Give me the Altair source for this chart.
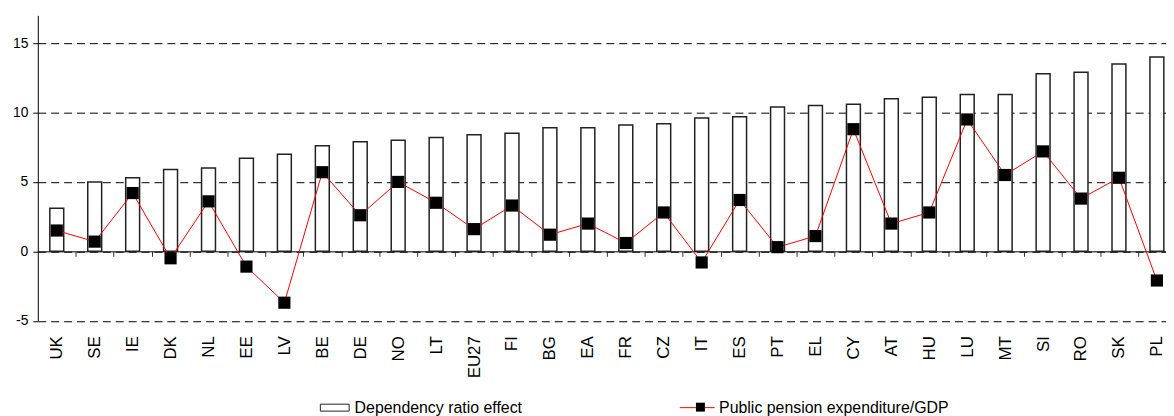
import altair as alt
import pandas as pd

countries = ["UK", "SE", "IE", "DK", "NL", "EE", "LV", "BE", "DE", "NO",
             "LT", "EU27", "FI", "BG", "EA", "FR", "CZ", "IT", "ES", "PT",
             "EL", "CY", "AT", "HU", "LU", "MT", "SI", "RO", "SK", "PL"]
dependency = [3.1, 5.0, 5.3, 5.9, 6.0, 6.7, 7.0, 7.6, 7.9, 8.0,
              8.2, 8.4, 8.5, 8.9, 8.9, 9.1, 9.2, 9.6, 9.7, 10.4,
              10.5, 10.6, 11.0, 11.1, 11.3, 11.3, 12.8, 12.9, 13.5, 14.0]
pension = [1.5, 0.7, 4.2, -0.5, 3.6, -1.1, -3.7, 5.7, 2.6, 5.0,
           3.5, 1.6, 3.3, 1.2, 2.0, 0.6, 2.8, -0.8, 3.7, 0.3,
           1.1, 8.8, 2.0, 2.8, 9.5, 5.5, 7.2, 3.8, 5.3, -2.1]
y_ticks = [-5, 0, 5, 10, 15]
bar_name = "Dependency ratio effect"
line_name = "Public pension expenditure/GDP"

n = len(countries)
df = pd.DataFrame({
    "idx": list(range(n)),
    "country": countries,
    "dep": dependency,
    "pen": pension,
    "s1": bar_name,
    "s2": line_name,
    "s3": line_name,
})

FONT = "Liberation Sans"
W, H = 1136, 307.5
Y_DOMAIN = [-5, 17]
# the category axis runs on past the right edge of the picture (last slot is cut)
X_DOMAIN = [-0.5, 29.24]
zero_offset = H * (Y_DOMAIN[1] / (Y_DOMAIN[1] - Y_DOMAIN[0])) - H

xscale = alt.Scale(domain=X_DOMAIN, nice=False, zero=False, padding=0)
yscale = alt.Scale(domain=Y_DOMAIN, nice=False, zero=False)

label_list = "[" + ",".join("'" + c + "'" for c in countries) + "]"

yaxis = alt.Axis(values=y_ticks, grid=True, gridDash=[8, 5], gridColor="#000",
                 gridWidth=1, gridOpacity=1, tickSize=5, tickColor="#000",
                 domainColor="#000", labelFontSize=14, labelColor="#000",
                 labelPadding=5, title=None, labelFont=FONT,
                 labelExpr="datum.value + ''")

axis_zero = alt.Axis(orient="bottom", offset=zero_offset, labels=False,
                     values=[i + 0.5 for i in range(n - 1)],
                     ticks=True, tickSize=5, tickColor="#333",
                     domain=True, domainColor="#000", domainWidth=1,
                     grid=False, title=None)
axis_labels = alt.Axis(orient="bottom", offset=0, labelAngle=270,
                       values=list(range(n)),
                       labelExpr=label_list + "[datum.value]",
                       labelAlign="right", labelBaseline="middle",
                       labelPadding=15, labelFontSize=17, labelColor="#000",
                       labelFont=FONT, labelOverlap=False, labelFlush=False,
                       ticks=False, domain=False, grid=False, title=None)

base = alt.Chart(df)

bars = base.mark_bar(size=14, stroke="#222", strokeWidth=1.5).encode(
    x=alt.X("idx:Q", scale=xscale, axis=axis_zero),
    y=alt.Y("dep:Q", scale=yscale, axis=yaxis),
    y2=alt.datum(0),
    fill=alt.Fill("s1:N", scale=alt.Scale(range=["white"]),
                  legend=alt.Legend(orient="none", legendX=284, legendY=380,
                                    title=None, padding=0, labelLimit=0,
                                    symbolType="M-1,-0.241H1V0.241H-1Z",
                                    symbolSize=841, symbolStrokeColor="#222",
                                    symbolStrokeWidth=1, symbolFillColor="white",
                                    labelFontSize=16, labelFont=FONT,
                                    labelColor="#000", labelOffset=5)),
)

line = base.mark_line(strokeWidth=1).encode(
    x=alt.X("idx:Q", scale=xscale, axis=axis_labels),
    y=alt.Y("pen:Q", scale=yscale, axis=yaxis),
    stroke=alt.Stroke("s2:N", scale=alt.Scale(range=["#ff0000"]),
                      legend=alt.Legend(orient="none", legendX=646, legendY=377,
                                        title=None, padding=0, labelLimit=0,
                                        symbolType="stroke", symbolSize=1225,
                                        symbolStrokeColor="#ff0000",
                                        symbolStrokeWidth=1,
                                        labelFontSize=16, labelFont=FONT,
                                        labelColor="#000", labelOffset=4)),
)

points = base.mark_point(shape="square", filled=True, size=150, color="#000",
                         opacity=1).encode(
    x=alt.X("idx:Q", scale=xscale, axis=None),
    y=alt.Y("pen:Q", scale=yscale, axis=yaxis),
    shape=alt.Shape("s3:N", scale=alt.Scale(range=["square"]),
                    legend=alt.Legend(orient="none", legendX=659.2, legendY=386.5,
                                      title=None, padding=0,
                                      symbolSize=81, symbolFillColor="#000",
                                      symbolStrokeColor="#000",
                                      symbolStrokeWidth=0, symbolOpacity=1,
                                      labelExpr="''", labelFontSize=16)),
)

chart = alt.layer(bars, line, points).resolve_axis(x="independent").properties(
    width=W, height=H,
    autosize=alt.AutoSizeParams(type="none"),
    padding={"left": 30, "top": 6, "right": 0, "bottom": 94.5},
).configure(font=FONT, background="white", view=alt.ViewConfig(stroke=None))

chart.save("out.html", embed_options={"renderer": "svg", "actions": False})
